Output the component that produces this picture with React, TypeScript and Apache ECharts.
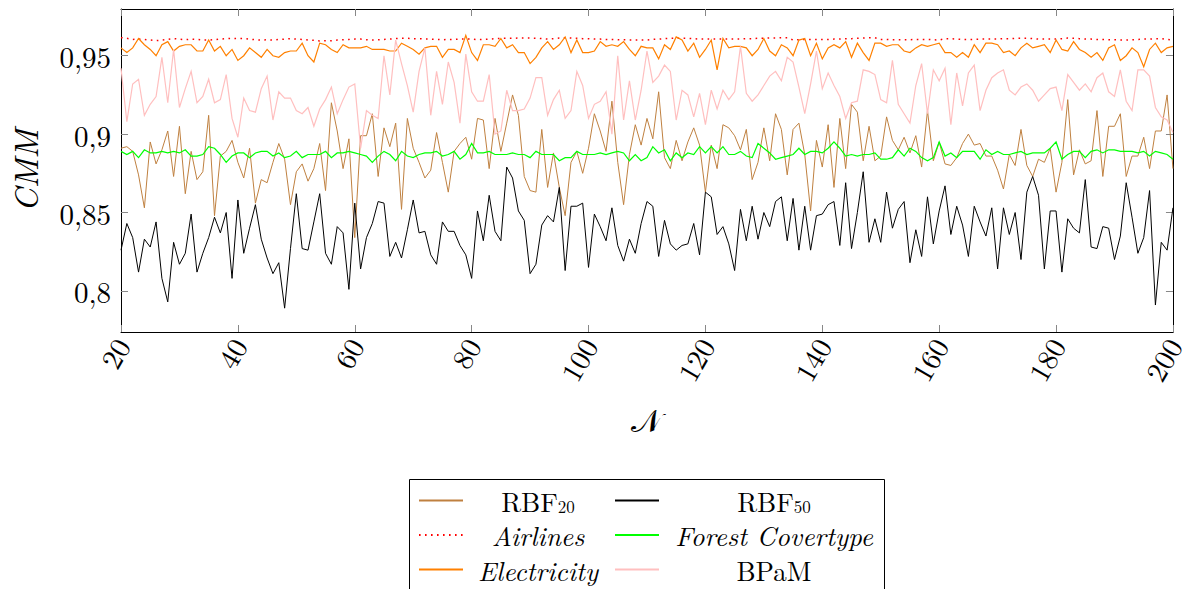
import React, { useEffect, useRef } from 'react';
import * as echarts from 'echarts';

// x values: ensemble size N from 20 to 200
const N: number[] = Array.from({ length: 181 }, (_, i) => 20 + i);

const RBF20 = [
  0.891, 0.892, 0.889, 0.874, 0.853, 0.895, 0.881, 0.890, 0.902, 0.873,
  0.905, 0.862, 0.889, 0.871, 0.876, 0.912, 0.848, 0.886, 0.889, 0.896,
  0.882, 0.872, 0.891, 0.856, 0.871, 0.869, 0.882, 0.894, 0.884, 0.855,
  0.876, 0.881, 0.870, 0.878, 0.894, 0.864, 0.920, 0.902, 0.878, 0.897,
  0.834, 0.899, 0.899, 0.913, 0.873, 0.904, 0.892, 0.907, 0.852, 0.910,
  0.891, 0.882, 0.872, 0.877, 0.901, 0.882, 0.863, 0.889, 0.894, 0.898,
  0.884, 0.910, 0.909, 0.878, 0.910, 0.889, 0.907, 0.925, 0.912, 0.873,
  0.864, 0.863, 0.903, 0.866, 0.888, 0.866, 0.848, 0.882, 0.889, 0.875,
  0.891, 0.913, 0.902, 0.889, 0.921, 0.882, 0.855, 0.887, 0.906, 0.893,
  0.910, 0.897, 0.927, 0.885, 0.878, 0.896, 0.883, 0.895, 0.904, 0.893,
  0.863, 0.893, 0.878, 0.906, 0.904, 0.899, 0.890, 0.903, 0.871, 0.882,
  0.904, 0.883, 0.913, 0.903, 0.874, 0.903, 0.907, 0.887, 0.851, 0.896,
  0.879, 0.906, 0.866, 0.910, 0.878, 0.919, 0.914, 0.883, 0.905, 0.883,
  0.886, 0.911, 0.896, 0.890, 0.898, 0.888, 0.899, 0.879, 0.915, 0.883,
  0.895, 0.881, 0.880, 0.885, 0.894, 0.900, 0.893, 0.894, 0.886, 0.886,
  0.877, 0.865, 0.887, 0.880, 0.903, 0.880, 0.873, 0.884, 0.882, 0.891,
  0.863, 0.882, 0.922, 0.874, 0.890, 0.881, 0.883, 0.915, 0.873, 0.905,
  0.905, 0.913, 0.873, 0.886, 0.886, 0.898, 0.878, 0.902, 0.902, 0.925,
  0.878,
];

const RBF50 = [
  0.826, 0.843, 0.834, 0.812, 0.833, 0.828, 0.844, 0.808, 0.793, 0.831,
  0.817, 0.824, 0.849, 0.812, 0.824, 0.834, 0.847, 0.837, 0.850, 0.808,
  0.858, 0.824, 0.840, 0.855, 0.833, 0.821, 0.811, 0.818, 0.789, 0.827,
  0.862, 0.827, 0.826, 0.844, 0.862, 0.824, 0.817, 0.841, 0.837, 0.801,
  0.856, 0.814, 0.834, 0.843, 0.857, 0.856, 0.822, 0.831, 0.821, 0.839,
  0.858, 0.837, 0.838, 0.823, 0.817, 0.844, 0.838, 0.838, 0.829, 0.823,
  0.808, 0.851, 0.832, 0.861, 0.838, 0.832, 0.879, 0.872, 0.851, 0.845,
  0.811, 0.817, 0.842, 0.848, 0.844, 0.866, 0.813, 0.854, 0.854, 0.856,
  0.815, 0.849, 0.841, 0.832, 0.853, 0.829, 0.819, 0.833, 0.824, 0.843,
  0.857, 0.854, 0.822, 0.845, 0.830, 0.826, 0.829, 0.830, 0.843, 0.823,
  0.863, 0.860, 0.836, 0.841, 0.830, 0.813, 0.852, 0.832, 0.854, 0.833,
  0.850, 0.841, 0.857, 0.860, 0.832, 0.859, 0.826, 0.854, 0.826, 0.848,
  0.849, 0.855, 0.857, 0.829, 0.869, 0.827, 0.850, 0.876, 0.831, 0.846,
  0.831, 0.863, 0.840, 0.852, 0.857, 0.818, 0.839, 0.822, 0.860, 0.830,
  0.851, 0.867, 0.836, 0.854, 0.842, 0.822, 0.854, 0.844, 0.835, 0.853,
  0.814, 0.853, 0.836, 0.850, 0.820, 0.863, 0.873, 0.861, 0.814, 0.851,
  0.851, 0.812, 0.846, 0.840, 0.837, 0.871, 0.828, 0.827, 0.841, 0.840,
  0.820, 0.835, 0.869, 0.847, 0.824, 0.834, 0.864, 0.791, 0.831, 0.826,
  0.853,
];

const AIRLINES = [
  0.9615, 0.9611, 0.9604, 0.9606, 0.9604, 0.9600, 0.9596, 0.9600, 0.9604, 0.9609,
  0.9606, 0.9602, 0.9606, 0.9604, 0.9600, 0.9600, 0.9602, 0.9606, 0.9609, 0.9611,
  0.9609, 0.9611, 0.9606, 0.9602, 0.9600, 0.9602, 0.9600, 0.9604, 0.9606, 0.9609,
  0.9606, 0.9604, 0.9600, 0.9598, 0.9594, 0.9596, 0.9596, 0.9600, 0.9602, 0.9604,
  0.9606, 0.9606, 0.9602, 0.9600, 0.9602, 0.9604, 0.9606, 0.9609, 0.9611, 0.9611,
  0.9609, 0.9609, 0.9606, 0.9606, 0.9604, 0.9602, 0.9604, 0.9604, 0.9606, 0.9606,
  0.9606, 0.9602, 0.9604, 0.9606, 0.9609, 0.9611, 0.9611, 0.9611, 0.9613, 0.9613,
  0.9613, 0.9611, 0.9609, 0.9606, 0.9609, 0.9613, 0.9615, 0.9613, 0.9611, 0.9609,
  0.9609, 0.9606, 0.9606, 0.9604, 0.9604, 0.9602, 0.9602, 0.9600, 0.9600, 0.9600,
  0.9600, 0.9604, 0.9606, 0.9609, 0.9611, 0.9611, 0.9611, 0.9611, 0.9609, 0.9606,
  0.9606, 0.9606, 0.9606, 0.9606, 0.9606, 0.9606, 0.9606, 0.9609, 0.9609, 0.9611,
  0.9611, 0.9613, 0.9613, 0.9615, 0.9615, 0.9600, 0.9602, 0.9604, 0.9604, 0.9604,
  0.9604, 0.9604, 0.9606, 0.9606, 0.9609, 0.9609, 0.9611, 0.9613, 0.9615, 0.9615,
  0.9604, 0.9604, 0.9602, 0.9602, 0.9602, 0.9602, 0.9604, 0.9604, 0.9604, 0.9602,
  0.9600, 0.9609, 0.9609, 0.9606, 0.9604, 0.9604, 0.9604, 0.9606, 0.9606, 0.9606,
  0.9606, 0.9609, 0.9609, 0.9611, 0.9611, 0.9611, 0.9609, 0.9606, 0.9606, 0.9606,
  0.9606, 0.9609, 0.9613, 0.9611, 0.9609, 0.9606, 0.9606, 0.9604, 0.9604, 0.9602,
  0.9602, 0.9600, 0.9600, 0.9602, 0.9604, 0.9606, 0.9606, 0.9609, 0.9609, 0.9604,
  0.9600,
];

const FOREST = [
  0.889, 0.887, 0.889, 0.885, 0.890, 0.888, 0.888, 0.889, 0.888, 0.889,
  0.888, 0.890, 0.886, 0.886, 0.887, 0.892, 0.891, 0.887, 0.882, 0.886,
  0.888, 0.888, 0.885, 0.888, 0.889, 0.889, 0.886, 0.888, 0.885, 0.886,
  0.889, 0.885, 0.887, 0.887, 0.887, 0.889, 0.885, 0.888, 0.888, 0.889,
  0.888, 0.887, 0.886, 0.882, 0.886, 0.889, 0.887, 0.883, 0.889, 0.886,
  0.885, 0.887, 0.888, 0.888, 0.889, 0.886, 0.887, 0.889, 0.884, 0.887,
  0.894, 0.888, 0.888, 0.889, 0.887, 0.887, 0.887, 0.888, 0.887, 0.887,
  0.885, 0.889, 0.887, 0.887, 0.887, 0.883, 0.885, 0.885, 0.889, 0.887,
  0.887, 0.887, 0.888, 0.887, 0.888, 0.889, 0.888, 0.883, 0.887, 0.883,
  0.885, 0.892, 0.888, 0.890, 0.883, 0.888, 0.885, 0.888, 0.887, 0.892,
  0.888, 0.892, 0.888, 0.892, 0.887, 0.887, 0.889, 0.886, 0.885, 0.894,
  0.891, 0.888, 0.884, 0.885, 0.886, 0.887, 0.891, 0.887, 0.889, 0.889,
  0.888, 0.891, 0.895, 0.891, 0.886, 0.887, 0.886, 0.887, 0.887, 0.888,
  0.884, 0.884, 0.885, 0.890, 0.886, 0.891, 0.889, 0.885, 0.883, 0.885,
  0.895, 0.886, 0.888, 0.885, 0.889, 0.889, 0.889, 0.884, 0.890, 0.887,
  0.889, 0.887, 0.887, 0.888, 0.889, 0.887, 0.888, 0.888, 0.888, 0.891,
  0.895, 0.884, 0.887, 0.889, 0.889, 0.885, 0.889, 0.890, 0.888, 0.890,
  0.890, 0.889, 0.889, 0.889, 0.888, 0.889, 0.886, 0.889, 0.888, 0.887,
  0.884,
];

const ELECTRICITY = [
  0.955, 0.952, 0.955, 0.961, 0.957, 0.954, 0.950, 0.957, 0.959, 0.953,
  0.956, 0.957, 0.957, 0.953, 0.953, 0.960, 0.953, 0.956, 0.950, 0.954,
  0.947, 0.950, 0.955, 0.952, 0.949, 0.954, 0.950, 0.949, 0.952, 0.953,
  0.953, 0.958, 0.950, 0.946, 0.958, 0.957, 0.954, 0.952, 0.957, 0.955,
  0.955, 0.955, 0.956, 0.954, 0.954, 0.954, 0.953, 0.953, 0.958, 0.956,
  0.954, 0.951, 0.955, 0.956, 0.956, 0.949, 0.954, 0.954, 0.952, 0.963,
  0.952, 0.947, 0.957, 0.957, 0.956, 0.961, 0.955, 0.957, 0.952, 0.952,
  0.945, 0.949, 0.955, 0.959, 0.954, 0.957, 0.962, 0.952, 0.960, 0.952,
  0.952, 0.953, 0.959, 0.956, 0.957, 0.956, 0.959, 0.954, 0.950, 0.956,
  0.955, 0.955, 0.948, 0.957, 0.954, 0.962, 0.960, 0.953, 0.958, 0.949,
  0.954, 0.960, 0.941, 0.961, 0.955, 0.956, 0.956, 0.955, 0.950, 0.954,
  0.961, 0.953, 0.950, 0.957, 0.955, 0.950, 0.960, 0.961, 0.950, 0.958,
  0.948, 0.955, 0.957, 0.955, 0.959, 0.949, 0.958, 0.952, 0.947, 0.958,
  0.958, 0.956, 0.957, 0.957, 0.953, 0.952, 0.955, 0.957, 0.956, 0.957,
  0.958, 0.952, 0.952, 0.949, 0.952, 0.949, 0.957, 0.952, 0.958, 0.958,
  0.957, 0.952, 0.953, 0.950, 0.955, 0.958, 0.955, 0.956, 0.957, 0.952,
  0.960, 0.954, 0.953, 0.959, 0.954, 0.952, 0.949, 0.952, 0.947, 0.955,
  0.957, 0.947, 0.950, 0.955, 0.952, 0.943, 0.954, 0.958, 0.952, 0.955,
  0.956,
];

const BPAM = [
  0.942, 0.908, 0.932, 0.935, 0.912, 0.919, 0.924, 0.949, 0.920, 0.954,
  0.917, 0.929, 0.940, 0.920, 0.924, 0.935, 0.920, 0.922, 0.938, 0.910,
  0.898, 0.923, 0.915, 0.914, 0.929, 0.937, 0.909, 0.927, 0.923, 0.923,
  0.915, 0.913, 0.917, 0.905, 0.916, 0.922, 0.930, 0.913, 0.922, 0.930,
  0.932, 0.891, 0.915, 0.912, 0.910, 0.950, 0.925, 0.960, 0.945, 0.931,
  0.914, 0.940, 0.955, 0.912, 0.940, 0.919, 0.946, 0.933, 0.907, 0.951,
  0.927, 0.921, 0.921, 0.938, 0.900, 0.902, 0.928, 0.915, 0.915, 0.916,
  0.923, 0.936, 0.936, 0.912, 0.922, 0.928, 0.910, 0.915, 0.940, 0.931,
  0.910, 0.919, 0.921, 0.927, 0.900, 0.950, 0.909, 0.934, 0.909, 0.928,
  0.953, 0.933, 0.937, 0.944, 0.940, 0.909, 0.928, 0.925, 0.911, 0.926,
  0.906, 0.928, 0.916, 0.928, 0.922, 0.927, 0.956, 0.926, 0.921, 0.925,
  0.931, 0.937, 0.940, 0.934, 0.949, 0.946, 0.930, 0.913, 0.932, 0.953,
  0.929, 0.939, 0.931, 0.924, 0.910, 0.920, 0.921, 0.941, 0.940, 0.938,
  0.922, 0.920, 0.947, 0.919, 0.913, 0.907, 0.931, 0.945, 0.913, 0.941,
  0.934, 0.942, 0.906, 0.939, 0.918, 0.939, 0.944, 0.915, 0.928, 0.936,
  0.939, 0.941, 0.928, 0.925, 0.930, 0.932, 0.928, 0.921, 0.925, 0.929,
  0.930, 0.915, 0.938, 0.933, 0.928, 0.932, 0.927, 0.936, 0.939, 0.927,
  0.924, 0.941, 0.921, 0.915, 0.941, 0.941, 0.937, 0.917, 0.911, 0.909,
  0.901,
];

const Y_TICKS = [0.8, 0.85, 0.9, 0.95];
const X_MIN = 20;
const X_MAX = 200;
const X_STEP = 20;
const Y_MIN = 0.7738;
const Y_MAX = 0.9798;

// legend rows (two entries per row, row-major like the original)
const LEGEND_ROWS: string[][] = [
  ['RBF20', 'RBF50'],
  ['Airlines', 'Forest Covertype'],
  ['Electricity', 'BPaM'],
];

const SERIF = '"Latin Modern Roman", "Liberation Serif", "Times New Roman", serif';

const LEGEND_LABELS: Record<string, string> = {
  RBF20: '{n|RBF}{s|20}',
  RBF50: '{n|RBF}{s|50}',
  Airlines: '{i|Airlines}',
  'Forest Covertype': '{i|Forest Covertype}',
  Electricity: '{i|Electricity}',
  BPaM: '{n|BPaM}',
};

export default function App() {
  const ref = useRef<HTMLDivElement>(null);

  useEffect(() => {
    if (!ref.current) return;
    const chart = echarts.init(ref.current, null, { renderer: 'svg' });

    const mk = (name: string, vals: number[], color: string, width = 1, type: any = 'solid') => ({
      name,
      type: 'line',
      data: N.map((n, i) => [n, vals[i]]),
      showSymbol: false,
      symbol: 'none',
      lineStyle: { color, width, type, cap: 'butt', join: 'miter' },
      itemStyle: { color },
      emphasis: { disabled: true },
      xAxisIndex: 0,
      yAxisIndex: 0,
      z: 2,
    });

    const tickStyle = { show: true, inside: true, length: 7, lineStyle: { color: '#888', width: 1 } };
    const axisLine = { show: true, onZero: false, lineStyle: { color: '#000', width: 1 } };

    const yLabelFmt = (v: number) => String(Number(v.toFixed(2))).replace('.', ',');

    const legendText = {
      color: '#000',
      fontFamily: SERIF,
      fontSize: 27,
      lineHeight: 28,
      rich: {
        n: { fontFamily: SERIF, fontSize: 27, lineHeight: 28, align: 'center', color: '#000' },
        i: { fontFamily: SERIF, fontSize: 27, lineHeight: 28, fontStyle: 'italic', align: 'center', color: '#000' },
        s: {
          fontFamily: SERIF,
          fontSize: 17,
          lineHeight: 28,
          height: 17,
          verticalAlign: 'bottom',
          align: 'center',
          color: '#000',
        },
      },
    };

    const rowCenters = [500.5, 535, 569.5];
    const legends = LEGEND_ROWS.map((row, r) => ({
      left: 418,
      top: rowCenters[r] - 14,
      width: 470,
      orient: 'horizontal',
      padding: 0,
      itemWidth: 44,
      itemHeight: 14,
      itemGap: 6,
      selectedMode: false,
      itemStyle: { opacity: 0, borderWidth: 0 },
      data: [
        { name: row[0], textStyle: { width: 140 } },
        { name: row[1], textStyle: { width: 220 } },
      ],
      formatter: (name: string) => LEGEND_LABELS[name] ?? name,
      textStyle: legendText,
    }));

    const option: any = {
      animation: false,
      backgroundColor: '#fff',
      grid: { left: 121, right: 10, top: 9, bottom: 257, containLabel: false },
      graphic: [
        {
          type: 'rect',
          shape: { x: 409.5, y: 479.5, width: 475, height: 130 },
          style: { fill: 'none', stroke: '#000', lineWidth: 1 },
          silent: true,
        },
      ],
      xAxis: [
        {
          type: 'value',
          min: X_MIN,
          max: X_MAX,
          interval: X_STEP,
          position: 'bottom',
          axisLine,
          axisTick: tickStyle,
          splitLine: { show: false },
          axisLabel: {
            rotate: 60,
            margin: 8,
            color: '#000',
            fontFamily: SERIF,
            fontSize: 29,
          },
          name: '𝒩',
          nameLocation: 'middle',
          nameGap: 70,
          nameTextStyle: { fontFamily: SERIF, fontSize: 32, color: '#000' },
        },
        {
          type: 'value',
          min: X_MIN,
          max: X_MAX,
          interval: X_STEP,
          position: 'top',
          axisLine,
          axisTick: tickStyle,
          axisLabel: { show: false },
          splitLine: { show: false },
        },
      ],
      yAxis: [
        {
          type: 'value',
          min: Y_MIN,
          max: Y_MAX,
          position: 'left',
          axisLine,
          axisTick: { ...tickStyle, customValues: Y_TICKS },
          splitLine: { show: false },
          axisLabel: {
            customValues: Y_TICKS,
            formatter: yLabelFmt,
            margin: 10,
            color: '#000',
            fontFamily: SERIF,
            fontSize: 29,
          },
          name: 'CMM',
          nameLocation: 'middle',
          nameGap: 80,
          nameTextStyle: { fontFamily: SERIF, fontSize: 33, fontStyle: 'italic', color: '#000' },
        },
        {
          type: 'value',
          min: Y_MIN,
          max: Y_MAX,
          position: 'right',
          axisLine,
          axisTick: { ...tickStyle, customValues: Y_TICKS },
          axisLabel: { show: false, customValues: Y_TICKS },
          splitLine: { show: false },
        },
      ],
      legend: legends,
      series: [
        mk('RBF20', RBF20, '#BF8040', 1),
        mk('RBF50', RBF50, '#000000', 1),
        mk('Airlines', AIRLINES, '#FF0000', 1.5, [1.6, 4.4]),
        mk('Forest Covertype', FOREST, '#00FF00', 1.2),
        mk('Electricity', ELECTRICITY, '#FF8000', 1.2),
        mk('BPaM', BPAM, '#FFBFBF', 1.2),
      ],
    };

    chart.setOption(option);
    return () => chart.dispose();
  }, []);

  return (
    <div
      ref={ref}
      style={{ position: 'fixed', left: 0, top: 0, width: 1187, height: 589, background: '#fff' }}
    />
  );
}
